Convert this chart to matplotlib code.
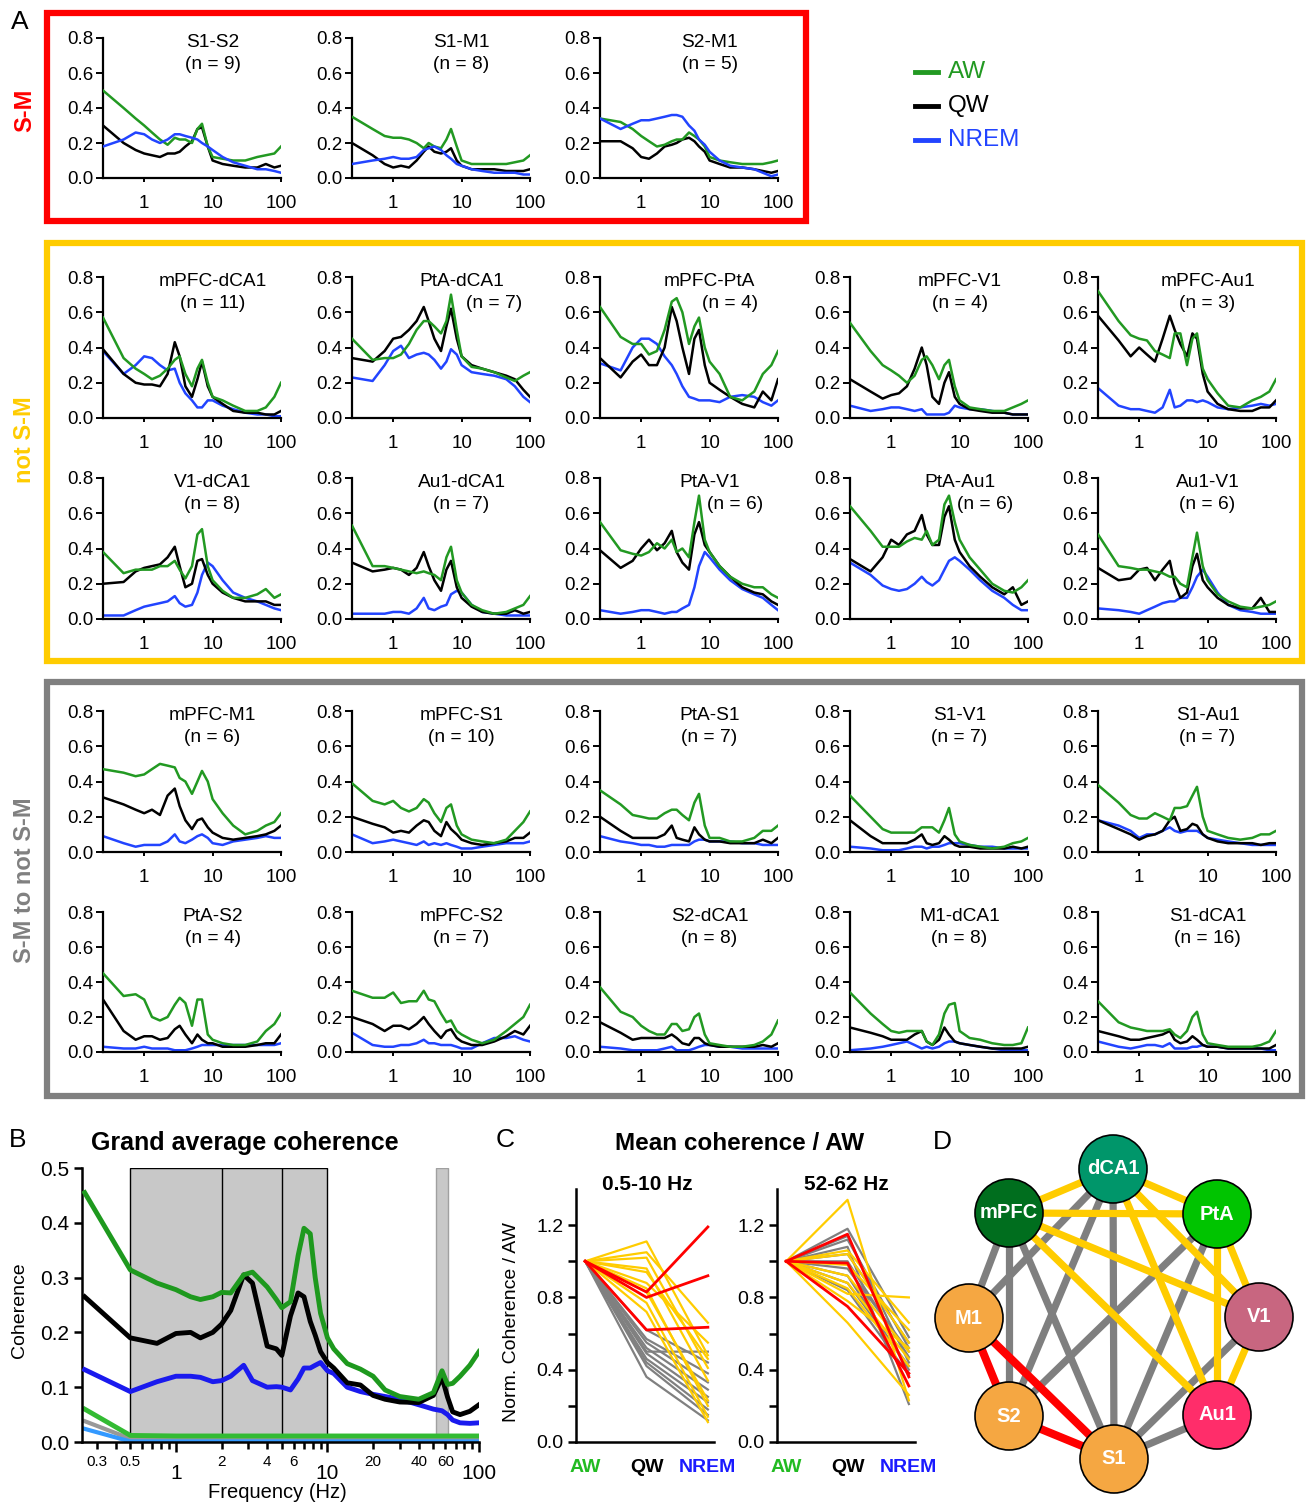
import numpy as np
import matplotlib
matplotlib.use("Agg")
import matplotlib.pyplot as plt
from matplotlib.patches import Rectangle, Circle
from matplotlib.lines import Line2D
from matplotlib.ticker import FixedLocator, NullLocator

plt.rcParams['font.family'] = ['Liberation Sans', 'DejaVu Sans']

# ---------------- DATA ----------------
FREQ = [0.25, 0.5, 0.75, 1, 1.3, 1.7, 2.2, 2.8, 3.3, 4, 5, 6, 7, 8.5, 10, 14, 20, 30, 45, 60, 80, 100]

PAIRS_SM = ["S1-S2", "S1-M1", "S2-M1"]
PAIRS_NOT = ["mPFC-dCA1", "PtA-dCA1", "mPFC-PtA", "mPFC-V1", "mPFC-Au1",
             "V1-dCA1", "Au1-dCA1", "PtA-V1", "PtA-Au1", "Au1-V1"]
PAIRS_CROSS = ["mPFC-M1", "mPFC-S1", "PtA-S1", "S1-V1", "S1-Au1",
               "PtA-S2", "mPFC-S2", "S2-dCA1", "M1-dCA1", "S1-dCA1"]
N_REC = {"S1-S2": 9, "S1-M1": 8, "S2-M1": 5,
         "mPFC-dCA1": 11, "PtA-dCA1": 7, "mPFC-PtA": 4, "mPFC-V1": 4, "mPFC-Au1": 3,
         "V1-dCA1": 8, "Au1-dCA1": 7, "PtA-V1": 6, "PtA-Au1": 6, "Au1-V1": 6,
         "mPFC-M1": 6, "mPFC-S1": 10, "PtA-S1": 7, "S1-V1": 7, "S1-Au1": 7,
         "PtA-S2": 4, "mPFC-S2": 7, "S2-dCA1": 8, "M1-dCA1": 8, "S1-dCA1": 16}

AW = {
    "S1-S2":     [0.50,0.40,0.34,0.30,0.26,0.22,0.19,0.23,0.22,0.22,0.20,0.28,0.31,0.18,0.12,0.11,0.10,0.10,0.12,0.13,0.14,0.18],
    "S1-M1":     [0.35,0.28,0.24,0.23,0.23,0.22,0.20,0.17,0.20,0.18,0.17,0.22,0.28,0.18,0.10,0.08,0.08,0.08,0.08,0.09,0.10,0.13],
    "S2-M1":     [0.34,0.32,0.28,0.24,0.21,0.18,0.19,0.21,0.22,0.22,0.26,0.24,0.22,0.18,0.12,0.10,0.09,0.08,0.08,0.08,0.09,0.10],
    "mPFC-dCA1": [0.57,0.34,0.28,0.25,0.22,0.24,0.28,0.33,0.35,0.25,0.18,0.28,0.33,0.20,0.12,0.10,0.07,0.04,0.04,0.06,0.12,0.20],
    "PtA-dCA1":  [0.45,0.33,0.34,0.34,0.36,0.42,0.50,0.55,0.55,0.52,0.48,0.55,0.70,0.50,0.35,0.29,0.28,0.26,0.23,0.21,0.24,0.26],
    "mPFC-PtA":  [0.63,0.46,0.42,0.42,0.36,0.38,0.50,0.66,0.68,0.60,0.42,0.52,0.57,0.40,0.32,0.25,0.12,0.10,0.15,0.25,0.30,0.38],
    "mPFC-V1":   [0.54,0.38,0.30,0.27,0.24,0.20,0.24,0.33,0.35,0.30,0.22,0.30,0.33,0.18,0.10,0.06,0.05,0.04,0.04,0.06,0.08,0.10],
    "mPFC-Au1":  [0.72,0.55,0.47,0.45,0.44,0.38,0.36,0.34,0.48,0.48,0.30,0.45,0.48,0.28,0.22,0.14,0.07,0.06,0.10,0.12,0.15,0.22],
    "V1-dCA1":   [0.38,0.26,0.28,0.28,0.28,0.30,0.30,0.33,0.28,0.23,0.30,0.48,0.51,0.30,0.22,0.16,0.12,0.12,0.14,0.17,0.12,0.14],
    "Au1-dCA1":  [0.53,0.30,0.30,0.29,0.28,0.27,0.26,0.27,0.26,0.25,0.22,0.35,0.41,0.22,0.15,0.08,0.05,0.03,0.04,0.06,0.08,0.13],
    "PtA-V1":    [0.55,0.39,0.37,0.36,0.38,0.43,0.40,0.45,0.38,0.40,0.35,0.55,0.70,0.45,0.38,0.30,0.24,0.20,0.18,0.18,0.14,0.12],
    "PtA-Au1":   [0.64,0.50,0.41,0.41,0.41,0.44,0.46,0.45,0.50,0.42,0.45,0.65,0.70,0.55,0.45,0.35,0.28,0.20,0.16,0.15,0.18,0.22],
    "Au1-V1":    [0.48,0.30,0.29,0.28,0.28,0.27,0.26,0.24,0.24,0.20,0.18,0.35,0.49,0.30,0.22,0.14,0.10,0.07,0.06,0.07,0.08,0.10],
    "mPFC-M1":   [0.47,0.45,0.43,0.44,0.47,0.50,0.49,0.48,0.42,0.40,0.33,0.40,0.46,0.40,0.30,0.22,0.15,0.10,0.12,0.15,0.17,0.22],
    "mPFC-S1":   [0.39,0.29,0.27,0.29,0.25,0.23,0.25,0.30,0.28,0.22,0.17,0.25,0.27,0.15,0.10,0.07,0.06,0.05,0.07,0.12,0.17,0.23],
    "PtA-S1":    [0.35,0.27,0.21,0.20,0.19,0.19,0.22,0.24,0.24,0.21,0.18,0.28,0.33,0.15,0.08,0.08,0.06,0.06,0.08,0.12,0.12,0.15],
    "S1-V1":     [0.32,0.20,0.13,0.11,0.11,0.11,0.11,0.14,0.14,0.14,0.11,0.18,0.25,0.10,0.06,0.04,0.03,0.02,0.03,0.05,0.06,0.08],
    "S1-Au1":    [0.38,0.28,0.21,0.19,0.19,0.22,0.20,0.18,0.25,0.25,0.26,0.32,0.37,0.20,0.12,0.10,0.08,0.07,0.08,0.10,0.10,0.12],
    "PtA-S2":    [0.45,0.32,0.33,0.30,0.20,0.18,0.20,0.27,0.31,0.28,0.15,0.30,0.30,0.10,0.07,0.05,0.04,0.04,0.06,0.12,0.16,0.22],
    "mPFC-S2":   [0.35,0.31,0.31,0.34,0.28,0.29,0.29,0.35,0.30,0.29,0.22,0.17,0.18,0.12,0.10,0.07,0.05,0.07,0.12,0.16,0.20,0.27],
    "S2-dCA1":   [0.37,0.23,0.20,0.15,0.12,0.10,0.10,0.16,0.16,0.12,0.13,0.20,0.22,0.10,0.05,0.04,0.03,0.03,0.04,0.06,0.10,0.18],
    "M1-dCA1":   [0.34,0.22,0.16,0.12,0.11,0.12,0.12,0.12,0.06,0.04,0.10,0.22,0.27,0.28,0.12,0.08,0.07,0.05,0.04,0.04,0.05,0.14],
    "S1-dCA1":   [0.29,0.17,0.14,0.13,0.12,0.12,0.12,0.13,0.10,0.08,0.12,0.20,0.23,0.10,0.05,0.04,0.03,0.03,0.03,0.04,0.06,0.12],
}
QW = {
    "S1-S2":     [0.30,0.20,0.16,0.14,0.13,0.12,0.14,0.14,0.15,0.18,0.21,0.28,0.29,0.18,0.10,0.08,0.07,0.06,0.06,0.08,0.06,0.07],
    "S1-M1":     [0.20,0.13,0.08,0.06,0.07,0.06,0.10,0.15,0.18,0.15,0.14,0.15,0.17,0.10,0.07,0.05,0.05,0.05,0.04,0.04,0.04,0.05],
    "S2-M1":     [0.21,0.21,0.17,0.12,0.11,0.14,0.18,0.19,0.20,0.22,0.23,0.21,0.18,0.15,0.10,0.08,0.06,0.06,0.05,0.04,0.03,0.04],
    "mPFC-dCA1": [0.39,0.25,0.20,0.19,0.19,0.18,0.25,0.43,0.35,0.18,0.12,0.22,0.32,0.18,0.12,0.08,0.04,0.03,0.03,0.02,0.02,0.04],
    "PtA-dCA1":  [0.34,0.32,0.38,0.45,0.46,0.50,0.55,0.63,0.55,0.45,0.38,0.52,0.62,0.45,0.35,0.30,0.28,0.26,0.24,0.22,0.16,0.12],
    "mPFC-PtA":  [0.34,0.23,0.32,0.36,0.30,0.30,0.40,0.63,0.55,0.40,0.25,0.45,0.50,0.30,0.20,0.16,0.12,0.08,0.06,0.15,0.10,0.22],
    "mPFC-V1":   [0.22,0.15,0.11,0.13,0.14,0.18,0.28,0.40,0.30,0.12,0.08,0.20,0.26,0.12,0.08,0.05,0.04,0.03,0.03,0.02,0.02,0.02],
    "mPFC-Au1":  [0.58,0.44,0.35,0.40,0.36,0.32,0.45,0.58,0.50,0.42,0.35,0.48,0.45,0.25,0.15,0.08,0.05,0.04,0.04,0.06,0.06,0.10],
    "V1-dCA1":   [0.20,0.21,0.27,0.29,0.30,0.31,0.35,0.41,0.30,0.18,0.20,0.33,0.34,0.25,0.20,0.15,0.12,0.10,0.10,0.10,0.08,0.08],
    "Au1-dCA1":  [0.32,0.27,0.28,0.29,0.28,0.25,0.29,0.38,0.30,0.22,0.16,0.28,0.33,0.18,0.12,0.07,0.04,0.03,0.03,0.05,0.03,0.04],
    "PtA-V1":    [0.39,0.29,0.33,0.40,0.45,0.39,0.43,0.50,0.38,0.32,0.28,0.48,0.55,0.42,0.38,0.30,0.24,0.18,0.15,0.14,0.10,0.08],
    "PtA-Au1":   [0.34,0.27,0.35,0.45,0.42,0.48,0.50,0.59,0.48,0.42,0.42,0.58,0.64,0.45,0.38,0.30,0.24,0.18,0.14,0.18,0.08,0.10],
    "Au1-V1":    [0.29,0.22,0.23,0.28,0.29,0.22,0.28,0.33,0.20,0.12,0.15,0.30,0.37,0.22,0.18,0.12,0.08,0.06,0.06,0.12,0.04,0.04],
    "mPFC-M1":   [0.31,0.27,0.24,0.22,0.24,0.21,0.32,0.36,0.26,0.18,0.13,0.18,0.19,0.14,0.11,0.08,0.07,0.08,0.09,0.10,0.12,0.15],
    "mPFC-S1":   [0.20,0.16,0.14,0.11,0.12,0.11,0.15,0.18,0.17,0.12,0.09,0.17,0.13,0.10,0.07,0.05,0.04,0.05,0.06,0.08,0.08,0.11],
    "PtA-S1":    [0.20,0.12,0.08,0.08,0.08,0.08,0.10,0.15,0.08,0.07,0.06,0.14,0.10,0.07,0.06,0.06,0.05,0.05,0.05,0.07,0.05,0.08],
    "S1-V1":     [0.18,0.09,0.05,0.05,0.05,0.05,0.07,0.10,0.05,0.04,0.05,0.09,0.07,0.04,0.03,0.03,0.02,0.02,0.02,0.03,0.02,0.03],
    "S1-Au1":    [0.18,0.13,0.10,0.07,0.09,0.10,0.12,0.18,0.20,0.12,0.13,0.16,0.15,0.10,0.08,0.06,0.05,0.05,0.05,0.04,0.05,0.05],
    "PtA-S2":    [0.30,0.12,0.07,0.09,0.09,0.07,0.08,0.13,0.15,0.10,0.05,0.10,0.07,0.05,0.05,0.03,0.03,0.03,0.04,0.05,0.05,0.10],
    "mPFC-S2":   [0.20,0.16,0.12,0.15,0.15,0.13,0.16,0.20,0.16,0.12,0.08,0.12,0.13,0.08,0.06,0.04,0.04,0.06,0.09,0.12,0.10,0.15],
    "S2-dCA1":   [0.17,0.11,0.07,0.08,0.08,0.08,0.08,0.10,0.08,0.05,0.04,0.08,0.08,0.05,0.04,0.03,0.03,0.03,0.03,0.04,0.03,0.05],
    "M1-dCA1":   [0.14,0.11,0.09,0.07,0.07,0.07,0.10,0.12,0.06,0.04,0.07,0.14,0.10,0.06,0.05,0.04,0.03,0.02,0.02,0.02,0.02,0.03],
    "S1-dCA1":   [0.12,0.09,0.07,0.07,0.08,0.09,0.10,0.12,0.07,0.05,0.06,0.09,0.07,0.04,0.03,0.03,0.02,0.02,0.02,0.02,0.02,0.04],
}
NREM = {
    "S1-S2":     [0.18,0.22,0.26,0.25,0.22,0.20,0.22,0.25,0.25,0.24,0.23,0.22,0.20,0.18,0.16,0.12,0.09,0.07,0.05,0.05,0.04,0.03],
    "S1-M1":     [0.08,0.10,0.11,0.12,0.11,0.11,0.12,0.16,0.17,0.18,0.16,0.13,0.11,0.08,0.07,0.05,0.04,0.03,0.03,0.03,0.02,0.02],
    "S2-M1":     [0.34,0.28,0.31,0.33,0.33,0.34,0.35,0.36,0.36,0.35,0.30,0.27,0.22,0.19,0.15,0.10,0.07,0.06,0.05,0.03,0.01,0.02],
    "mPFC-dCA1": [0.38,0.25,0.30,0.35,0.34,0.30,0.27,0.28,0.20,0.14,0.10,0.06,0.06,0.10,0.10,0.07,0.05,0.03,0.02,0.02,0.01,0.01],
    "PtA-dCA1":  [0.23,0.21,0.30,0.38,0.41,0.34,0.36,0.37,0.36,0.33,0.28,0.32,0.39,0.36,0.30,0.26,0.25,0.24,0.22,0.18,0.12,0.09],
    "mPFC-PtA":  [0.31,0.27,0.40,0.45,0.45,0.42,0.35,0.30,0.25,0.18,0.12,0.11,0.10,0.10,0.10,0.09,0.12,0.13,0.12,0.09,0.07,0.10],
    "mPFC-V1":   [0.07,0.04,0.05,0.06,0.06,0.05,0.04,0.05,0.02,0.02,0.02,0.02,0.03,0.07,0.06,0.05,0.05,0.04,0.03,0.02,0.02,0.02],
    "mPFC-Au1":  [0.17,0.07,0.05,0.05,0.04,0.03,0.06,0.16,0.06,0.07,0.10,0.10,0.09,0.10,0.09,0.06,0.05,0.06,0.07,0.08,0.07,0.08],
    "V1-dCA1":   [0.02,0.02,0.05,0.07,0.08,0.09,0.10,0.13,0.09,0.07,0.08,0.15,0.25,0.32,0.30,0.22,0.15,0.12,0.10,0.08,0.06,0.05],
    "Au1-dCA1":  [0.03,0.03,0.03,0.04,0.04,0.03,0.06,0.12,0.06,0.05,0.07,0.08,0.14,0.16,0.15,0.08,0.04,0.03,0.02,0.02,0.02,0.02],
    "PtA-V1":    [0.05,0.03,0.04,0.05,0.05,0.04,0.03,0.04,0.04,0.06,0.08,0.18,0.30,0.38,0.35,0.28,0.22,0.17,0.14,0.12,0.08,0.05],
    "PtA-Au1":   [0.32,0.25,0.19,0.17,0.16,0.17,0.20,0.24,0.21,0.19,0.22,0.28,0.33,0.35,0.33,0.28,0.22,0.16,0.12,0.08,0.05,0.05],
    "Au1-V1":    [0.06,0.05,0.04,0.03,0.05,0.07,0.09,0.10,0.10,0.12,0.12,0.18,0.24,0.28,0.24,0.15,0.08,0.05,0.04,0.03,0.03,0.03],
    "mPFC-M1":   [0.09,0.05,0.03,0.04,0.04,0.04,0.06,0.10,0.06,0.05,0.07,0.09,0.10,0.08,0.05,0.04,0.06,0.07,0.08,0.09,0.08,0.08],
    "mPFC-S1":   [0.10,0.05,0.06,0.07,0.06,0.05,0.04,0.06,0.04,0.05,0.04,0.05,0.04,0.03,0.02,0.02,0.03,0.04,0.05,0.05,0.05,0.06],
    "PtA-S1":    [0.09,0.06,0.05,0.04,0.04,0.03,0.03,0.04,0.04,0.04,0.04,0.06,0.07,0.07,0.06,0.06,0.06,0.05,0.05,0.04,0.04,0.04],
    "S1-V1":     [0.03,0.02,0.01,0.01,0.01,0.02,0.03,0.03,0.02,0.03,0.03,0.04,0.05,0.05,0.05,0.04,0.03,0.03,0.02,0.02,0.02,0.02],
    "S1-Au1":    [0.18,0.15,0.12,0.08,0.10,0.10,0.12,0.14,0.12,0.11,0.12,0.12,0.12,0.10,0.08,0.07,0.06,0.05,0.04,0.04,0.04,0.04],
    "PtA-S2":    [0.03,0.02,0.02,0.03,0.02,0.02,0.02,0.01,0.01,0.01,0.02,0.03,0.04,0.04,0.04,0.04,0.04,0.04,0.04,0.04,0.04,0.05],
    "mPFC-S2":   [0.11,0.04,0.03,0.03,0.04,0.04,0.05,0.07,0.05,0.05,0.04,0.04,0.04,0.03,0.02,0.02,0.05,0.08,0.08,0.09,0.07,0.06],
    "S2-dCA1":   [0.03,0.02,0.01,0.01,0.01,0.01,0.02,0.03,0.01,0.01,0.01,0.02,0.03,0.04,0.04,0.03,0.03,0.02,0.02,0.02,0.02,0.02],
    "M1-dCA1":   [0.01,0.02,0.03,0.04,0.05,0.06,0.04,0.02,0.03,0.02,0.03,0.05,0.06,0.06,0.05,0.04,0.03,0.02,0.01,0.01,0.01,0.01],
    "S1-dCA1":   [0.06,0.03,0.02,0.03,0.04,0.04,0.03,0.05,0.02,0.02,0.02,0.03,0.03,0.04,0.03,0.03,0.02,0.02,0.02,0.02,0.01,0.01],
}

# Panel B: grand average coherence
FREQ_B = [0.25, 0.5, 0.75, 1, 1.25, 1.45, 1.75, 2, 2.3, 2.8, 3.2, 4, 4.6, 5, 5.7, 6.4, 7, 7.7, 8.3, 9,
          10, 11, 13.5, 16.5, 20, 24, 30, 40, 50, 57, 62, 67, 75, 87, 100]
GRAND_AW = [0.455, 0.314, 0.29, 0.278, 0.265, 0.26, 0.265, 0.273, 0.272, 0.305, 0.31, 0.283, 0.26, 0.245, 0.256,
            0.34, 0.39, 0.38, 0.30, 0.235, 0.19, 0.17, 0.143, 0.133, 0.12, 0.095, 0.083, 0.078, 0.09, 0.13, 0.105,
            0.107, 0.12, 0.14, 0.165]
GRAND_QW = [0.265, 0.19, 0.18, 0.198, 0.2, 0.19, 0.2, 0.215, 0.24, 0.305, 0.29, 0.175, 0.17, 0.158, 0.23,
            0.272, 0.265, 0.22, 0.195, 0.165, 0.145, 0.135, 0.108, 0.104, 0.085, 0.078, 0.073, 0.072, 0.085, 0.118,
            0.082, 0.055, 0.05, 0.056, 0.068]
GRAND_NREM = [0.132, 0.092, 0.11, 0.12, 0.12, 0.118, 0.11, 0.112, 0.12, 0.14, 0.112, 0.1, 0.101, 0.1, 0.095,
              0.115, 0.135, 0.135, 0.14, 0.145, 0.13, 0.125, 0.1, 0.092, 0.087, 0.083, 0.078, 0.068, 0.06, 0.057,
              0.05, 0.04, 0.035, 0.034, 0.035]
FREQ_CTRL = [0.25, 0.5, 1, 10, 100]
CTRL_AW = [0.06, 0.012, 0.011, 0.011, 0.011]
CTRL_QW = [0.038, 0.006, 0.005, 0.006, 0.006]
CTRL_NREM = [0.024, 0.001, 0.001, 0.001, 0.001]
BANDS = [(0.5, 10), (52, 62)]
SUB_BANDS = [2, 5]

# Panel C: normalized coherence (AW = 1), QW and NREM values per pair
STATES = ["AW", "QW", "NREM"]
LOW_QW_RED = [0.83, 0.80, 0.62]
LOW_NREM_RED = [1.19, 0.92, 0.635]
LOW_QW_YEL = [1.11, 1.05, 1.02, 0.96, 0.94, 0.88, 0.85, 0.83, 0.77, 0.72]
LOW_NREM_YEL = [0.48, 0.66, 0.41, 0.34, 0.46, 0.55, 0.20, 0.23, 0.14, 0.11]
LOW_QW_GRY = [0.50, 0.62, 0.57, 0.55, 0.52, 0.49, 0.46, 0.44, 0.42, 0.36]
LOW_NREM_GRY = [0.50, 0.44, 0.38, 0.33, 0.29, 0.25, 0.22, 0.18, 0.15, 0.12]
HIGH_QW_RED = [1.15, 0.99, 0.75]
HIGH_NREM_RED = [0.36, 0.31, 0.38]
HIGH_QW_YEL = [1.34, 1.06, 1.04, 0.98, 0.92, 0.88, 0.85, 0.82, 0.78, 0.66]
HIGH_NREM_YEL = [0.23, 0.66, 0.55, 0.62, 0.50, 0.46, 0.42, 0.80, 0.52, 0.26]
HIGH_QW_GRY = [1.18, 1.14, 1.12, 1.08, 1.04, 1.00, 0.96, 0.92, 0.88, 0.84]
HIGH_NREM_GRY = [0.58, 0.44, 0.52, 0.21, 0.55, 0.47, 0.50, 0.40, 0.42, 0.37]

# Panel D: nodes
NODES = ["dCA1", "mPFC", "PtA", "M1", "V1", "S2", "Au1", "S1"]

# ---------------- STYLE / LAYOUT ----------------
W, H = 1307, 1504
C_AW = '#229922'
C_QW = '#000000'
C_NREM = '#2244ff'
C_RED = '#ff0000'
C_YEL = '#ffcc00'
C_GRY = '#808080'

fig = plt.figure(figsize=(W / 100, H / 100), dpi=100)


def rect(l, t, r, b):
    return [l / W, 1 - b / H, (r - l) / W, (b - t) / H]


def ftext(x, y, s, **kw):
    kw.setdefault('ha', 'center')
    kw.setdefault('va', 'center')
    fig.text(x / W, 1 - y / H, s, **kw)


# group boxes
for (l, t, r, b, c) in [(47, 13, 806, 221, C_RED), (47, 243, 1302, 661, C_YEL), (47, 682, 1302, 1096, C_GRY)]:
    fig.add_artist(Rectangle((l / W, 1 - b / H), (r - l) / W, (b - t) / H, transform=fig.transFigure,
                             fill=False, ec=c, lw=4.5))
ftext(25, 110, 'S-M', rotation=90, color=C_RED, fontsize=17, fontweight='bold')
ftext(25, 440, 'not S-M', rotation=90, color=C_YEL, fontsize=17, fontweight='bold')
ftext(25, 880, 'S-M to not S-M', rotation=90, color=C_GRY, fontsize=17, fontweight='bold')
ftext(20, 22, 'A', fontsize=19)

# legend
for y, lab, c in [(72, 'AW', C_AW), (106, 'QW', C_QW), (140, 'NREM', C_NREM)]:
    fig.add_artist(Line2D([915 / W, 938 / W], [1 - y / H, 1 - y / H], transform=fig.transFigure,
                          color=c, lw=3.5))
    ftext(948, y, lab, ha='left', color=c, fontsize=17.5)

COL_LEFT = [103, 352, 600, 850, 1098]
PANEL_W = 178
ROWS = [(38, 178), (277, 418), (478, 619), (711, 852), (912, 1052)]
N_X = {"PtA-dCA1": 30, "mPFC-PtA": 20, "PtA-V1": 24, "PtA-Au1": 24}

layout = [(0, PAIRS_SM)] + [(1, PAIRS_NOT[:5]), (2, PAIRS_NOT[5:]), (3, PAIRS_CROSS[:5]), (4, PAIRS_CROSS[5:])]
for row, pairs in layout:
    t, b = ROWS[row]
    for ci, pair in enumerate(pairs):
        l = COL_LEFT[ci]
        ax = fig.add_axes(rect(l, t, l + PANEL_W, b))
        ax.plot(FREQ, AW[pair], color=C_AW, lw=1.8, zorder=3)
        ax.plot(FREQ, QW[pair], color=C_QW, lw=1.8, zorder=2)
        ax.plot(FREQ, NREM[pair], color=C_NREM, lw=1.8, zorder=4 if pair in PAIRS_SM else 1)
        ax.set_xscale('log')
        ax.set_xlim(0.25, 100)
        ax.set_ylim(0, 0.8)
        ax.xaxis.set_major_locator(FixedLocator([1, 10, 100]))
        ax.xaxis.set_minor_locator(NullLocator())
        ax.set_xticklabels(['1', '10', '100'])
        ax.set_yticks([0, 0.2, 0.4, 0.6, 0.8])
        ax.set_yticklabels(['0.0', '0.2', '0.4', '0.6', '0.8'])
        for s in ['top', 'right']:
            ax.spines[s].set_visible(False)
        for s in ['left', 'bottom']:
            ax.spines[s].set_linewidth(1.6)
        ax.tick_params(axis='y', length=5, width=1.4, pad=2, labelsize=13.5)
        ax.tick_params(axis='x', length=3, width=1.4, pad=9, labelsize=13.5)
        ax.text(10, 0.775, pair, ha='center', va='center', fontsize=13.8)
        ax.text(N_X.get(pair, 10), 0.65, f"(n = {N_REC[pair]})", ha='center', va='center', fontsize=13.8)

# ---------------- Panel B ----------------
ftext(18, 1140, 'B', fontsize=19)
ftext(245, 1143, 'Grand average coherence', fontsize=18, fontweight='bold')
axB = fig.add_axes(rect(82, 1168, 479, 1442))
axB.set_xscale('log')
axB.set_xlim(0.24, 100)
axB.set_ylim(0, 0.5)
for (f0, f1), ec in zip(BANDS, ['black', '#a0a0a0']):
    axB.add_patch(Rectangle((f0, 0), f1 - f0, 0.5, fc='#c8c8c8', ec=ec, lw=1, zorder=0))
for f in SUB_BANDS:
    axB.plot([f, f], [0, 0.5], color='black', lw=1, zorder=0.5)
axB.plot(FREQ_CTRL, CTRL_QW, color='#999999', lw=3, zorder=2)
axB.plot(FREQ_CTRL, CTRL_NREM, color='#3399ff', lw=3, zorder=2)
axB.plot(FREQ_CTRL, CTRL_AW, color='#33bb33', lw=3.5, zorder=2)
axB.plot(FREQ_B, GRAND_NREM, color='#1a1aee', lw=3.5, zorder=3)
axB.plot(FREQ_B, GRAND_QW, color='black', lw=3.5, zorder=4)
axB.plot(FREQ_B, GRAND_AW, color='#1e991e', lw=3.5, zorder=5)
for s in ['top', 'right']:
    axB.spines[s].set_visible(False)
for s in ['left', 'bottom']:
    axB.spines[s].set_linewidth(1.8)
axB.xaxis.set_major_locator(FixedLocator([1, 10, 100]))
axB.set_xticklabels(['1', '10', '100'])
minor = [0.3, 0.4, 0.5, 0.6, 0.7, 0.8, 0.9, 2, 3, 4, 5, 6, 7, 8, 9, 20, 30, 40, 50, 60, 70, 80, 90]
minor_lab = {0.3: '0.3', 0.5: '0.5', 2: '2', 4: '4', 6: '6', 20: '20', 40: '40', 60: '60'}
axB.xaxis.set_minor_locator(FixedLocator(minor))
axB.set_xticklabels([minor_lab.get(m, '') for m in minor], minor=True)
axB.tick_params(axis='x', which='major', length=7, width=1.8, pad=9, labelsize=15)
axB.tick_params(axis='x', which='minor', length=5, width=1.8, pad=4, labelsize=11)
axB.set_yticks([0, 0.1, 0.2, 0.3, 0.4, 0.5])
axB.set_yticklabels(['0.0', '0.1', '0.2', '0.3', '0.4', '0.5'])
axB.tick_params(axis='y', length=6, width=1.8, pad=3, labelsize=15)
ftext(20, 1310, 'Coherence', rotation=90, fontsize=14)
ftext(277, 1493, 'Frequency (Hz)', fontsize=14.5)

# ---------------- Panel C ----------------
ftext(505, 1140, 'C', fontsize=19)
ftext(740, 1143, 'Mean coherence / AW', fontsize=17.5, fontweight='bold')
ftext(512, 1322, 'Norm. Coherence / AW', rotation=90, fontsize=14)
state_colors = ['#22bb22', '#000000', '#1a1aff']
for (l, r, cx, sub, qr, nr, qy, ny, qg, ng) in [
        (576, 714, 647, '0.5-10 Hz', LOW_QW_RED, LOW_NREM_RED, LOW_QW_YEL, LOW_NREM_YEL, LOW_QW_GRY, LOW_NREM_GRY),
        (777, 915, 846, '52-62 Hz', HIGH_QW_RED, HIGH_NREM_RED, HIGH_QW_YEL, HIGH_NREM_YEL, HIGH_QW_GRY, HIGH_NREM_GRY)]:
    ax = fig.add_axes(rect(l, 1189, r, 1442))
    for q, n in zip(qg, ng):
        ax.plot([0, 1, 2], [1.0, q, n], color=C_GRY, lw=1.6, zorder=1)
    for q, n in zip(qy, ny):
        ax.plot([0, 1, 2], [1.0, q, n], color=C_YEL, lw=1.6, zorder=2)
    for q, n in zip(qr, nr):
        ax.plot([0, 1, 2], [1.0, q, n], color=C_RED, lw=2.0, zorder=3)
    ax.set_xlim(-0.15, 2.1)
    ax.set_ylim(0, 1.4)
    for s in ['top', 'right']:
        ax.spines[s].set_visible(False)
    for s in ['left', 'bottom']:
        ax.spines[s].set_linewidth(1.8)
    ax.set_yticks([0, 0.2, 0.4, 0.6, 0.8, 1.0, 1.2])
    ax.set_yticklabels(['0.0', '', '0.4', '', '0.8', '', '1.2'])
    ax.tick_params(axis='y', length=6, width=1.8, pad=3, labelsize=14)
    ax.set_xticks([0, 1, 2])
    ax.set_xticklabels(STATES)
    ax.tick_params(axis='x', length=0, pad=12, labelsize=14)
    for tl, c in zip(ax.get_xticklabels(), state_colors):
        tl.set_color(c)
        tl.set_fontweight('bold')
    ftext(cx, 1185, sub, fontsize=15, fontweight='bold')

# ---------------- Panel D ----------------
ftext(942, 1142, 'D', fontsize=19)
NODE_POS = {"dCA1": (1113, 1169), "mPFC": (1009, 1213), "PtA": (1217, 1214), "M1": (969, 1318),
            "V1": (1259, 1317), "S2": (1009, 1416), "Au1": (1217, 1415), "S1": (1114, 1459)}
NODE_COL = {"dCA1": '#00966a', "mPFC": '#006e1e', "PtA": '#00c400', "M1": '#f5a742', "V1": '#c86680',
            "S2": '#f5a742', "Au1": '#ff2d6a', "S1": '#f5a742'}
axD = fig.add_axes(rect(930, 1115, 1307, 1504))
axD.set_xlim(930, 1307)
axD.set_ylim(1504, 1115)
axD.axis('off')
for pairs, c, lw, z in [(PAIRS_CROSS, '#7f7f7f', 5.2, 1), (PAIRS_NOT, C_YEL, 5.2, 2), (PAIRS_SM, C_RED, 5.8, 3)]:
    for p in pairs:
        a, b = p.split('-')
        (x1, y1), (x2, y2) = NODE_POS[a], NODE_POS[b]
        axD.plot([x1, x2], [y1, y2], color=c, lw=lw, solid_capstyle='butt', zorder=z)
for n in NODES:
    x, y = NODE_POS[n]
    axD.add_patch(Circle((x, y), 34, fc=NODE_COL[n], ec='black', lw=1.2, zorder=5))
    axD.text(x, y, n, color='white', fontsize=14.5, fontweight='bold', ha='center', va='center', zorder=6)

fig.savefig('out.png', dpi=100)
